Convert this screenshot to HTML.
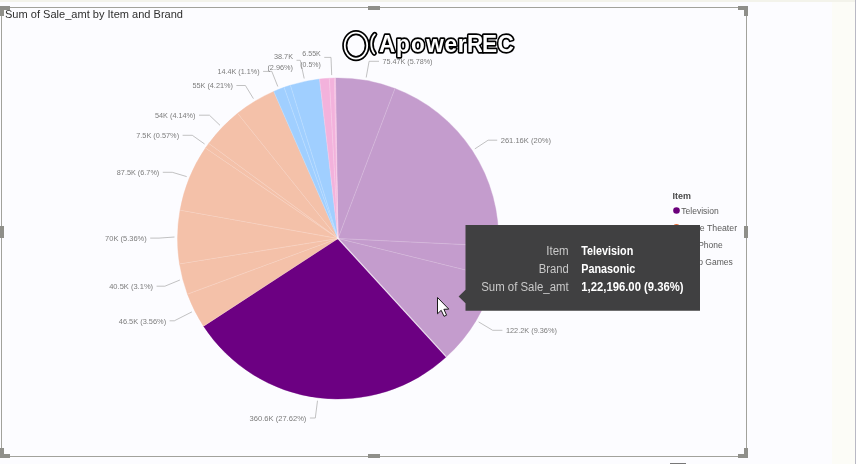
<!DOCTYPE html>
<html><head><meta charset="utf-8"><title>Sum of Sale_amt by Item and Brand</title>
<style>html,body{margin:0;padding:0;background:#FCFCFF;overflow:hidden}body{width:856px;height:464px}</style></head>
<body>
<svg width="856" height="464" viewBox="0 0 856 464" style="display:block;font-family:'Liberation Sans',sans-serif">
<rect width="856" height="464" fill="#FCFCFF"/>
<rect x="832" y="0" width="24" height="464" fill="#FCFCF7"/>
<rect x="0" y="0" width="856" height="2" fill="#F3F3EB"/>
<rect x="855" y="0" width="1" height="464" fill="#B9B9C4"/>
<rect x="670" y="463" width="16" height="1" fill="#777"/>
<rect x="1.5" y="7.5" width="745" height="449" fill="none" stroke="#A2A29C" stroke-width="1"/>
<rect x="0" y="6" width="10" height="4" fill="#8F8F8A"/>
<rect x="0" y="6" width="4" height="10" fill="#8F8F8A"/>
<rect x="738" y="6" width="10" height="4" fill="#8F8F8A"/>
<rect x="744" y="6" width="4" height="10" fill="#8F8F8A"/>
<rect x="0" y="454" width="10" height="4" fill="#8F8F8A"/>
<rect x="0" y="448" width="4" height="10" fill="#8F8F8A"/>
<rect x="738" y="454" width="10" height="4" fill="#8F8F8A"/>
<rect x="744" y="448" width="4" height="10" fill="#8F8F8A"/>
<rect x="368" y="6" width="12" height="4" fill="#8F8F8A"/>
<rect x="368" y="454" width="12" height="4" fill="#8F8F8A"/>
<rect x="0" y="226" width="4" height="12" fill="#8F8F8A"/>
<rect x="744" y="226" width="4" height="12" fill="#8F8F8A"/>
<text x="5" y="17.8" font-size="11" fill="#2F2F2F" textLength="178" lengthAdjust="spacingAndGlyphs">Sum of Sale_amt by Item and Brand</text>
<path d="M338.0,238.5 L335.48,78.02 A160.5,160.5 0 0 1 394.99,88.46 Z" fill="#C49CCD" stroke="#C49CCD" stroke-width="0.4"/>
<path d="M338.0,238.5 L394.99,88.46 A160.5,160.5 0 0 1 498.31,246.23 Z" fill="#C49CCD" stroke="#C49CCD" stroke-width="0.4"/>
<path d="M338.0,238.5 L498.31,246.23 A160.5,160.5 0 0 1 493.84,276.90 Z" fill="#C49CCD" stroke="#C49CCD" stroke-width="0.4"/>
<path d="M338.0,238.5 L493.84,276.90 A160.5,160.5 0 0 1 446.39,356.87 Z" fill="#C49CCD" stroke="#C49CCD" stroke-width="0.4"/>
<path d="M338.0,238.5 L446.39,356.87 A160.5,160.5 0 0 1 203.55,326.15 Z" fill="#6C0082" stroke="#6C0082" stroke-width="0.4"/>
<path d="M338.0,238.5 L203.55,326.15 A160.5,160.5 0 0 1 187.45,294.14 Z" fill="#F4C1A9" stroke="#F4C1A9" stroke-width="0.4"/>
<path d="M338.0,238.5 L187.45,294.14 A160.5,160.5 0 0 1 179.53,263.95 Z" fill="#F4C1A9" stroke="#F4C1A9" stroke-width="0.4"/>
<path d="M338.0,238.5 L179.53,263.95 A160.5,160.5 0 0 1 180.02,210.16 Z" fill="#F4C1A9" stroke="#F4C1A9" stroke-width="0.4"/>
<path d="M338.0,238.5 L180.02,210.16 A160.5,160.5 0 0 1 205.39,148.08 Z" fill="#F4C1A9" stroke="#F4C1A9" stroke-width="0.4"/>
<path d="M338.0,238.5 L205.39,148.08 A160.5,160.5 0 0 1 208.72,143.39 Z" fill="#F4C1A9" stroke="#F4C1A9" stroke-width="0.4"/>
<path d="M338.0,238.5 L208.72,143.39 A160.5,160.5 0 0 1 237.53,113.34 Z" fill="#F4C1A9" stroke="#F4C1A9" stroke-width="0.4"/>
<path d="M338.0,238.5 L237.53,113.34 A160.5,160.5 0 0 1 273.74,91.42 Z" fill="#F4C1A9" stroke="#F4C1A9" stroke-width="0.4"/>
<path d="M338.0,238.5 L273.74,91.42 A160.5,160.5 0 0 1 284.06,87.34 Z" fill="#A0CFFF" stroke="#A0CFFF" stroke-width="0.4"/>
<path d="M338.0,238.5 L284.06,87.34 A160.5,160.5 0 0 1 290.38,85.23 Z" fill="#A0CFFF" stroke="#A0CFFF" stroke-width="0.4"/>
<path d="M338.0,238.5 L290.38,85.23 A160.5,160.5 0 0 1 319.55,79.06 Z" fill="#A0CFFF" stroke="#A0CFFF" stroke-width="0.4"/>
<path d="M338.0,238.5 L319.55,79.06 A160.5,160.5 0 0 1 329.32,78.23 Z" fill="#F3B2DC" stroke="#F3B2DC" stroke-width="0.4"/>
<path d="M338.0,238.5 L329.32,78.23 A160.5,160.5 0 0 1 334.37,78.04 Z" fill="#F3B2DC" stroke="#F3B2DC" stroke-width="0.4"/>
<path d="M338.0,238.5 L334.37,78.04 A160.5,160.5 0 0 1 335.48,78.02 Z" fill="#F3B2DC" stroke="#F3B2DC" stroke-width="0.4"/>
<line x1="338.0" y1="238.5" x2="335.48" y2="78.02" stroke="#fff" stroke-opacity="0.28" stroke-width="0.7"/>
<line x1="338.0" y1="238.5" x2="394.99" y2="88.46" stroke="#fff" stroke-opacity="0.28" stroke-width="0.7"/>
<line x1="338.0" y1="238.5" x2="498.31" y2="246.23" stroke="#fff" stroke-opacity="0.28" stroke-width="0.7"/>
<line x1="338.0" y1="238.5" x2="493.84" y2="276.90" stroke="#fff" stroke-opacity="0.28" stroke-width="0.7"/>
<line x1="338.0" y1="238.5" x2="446.39" y2="356.87" stroke="#fff" stroke-opacity="0.28" stroke-width="0.7"/>
<line x1="338.0" y1="238.5" x2="203.55" y2="326.15" stroke="#fff" stroke-opacity="0.28" stroke-width="0.7"/>
<line x1="338.0" y1="238.5" x2="187.45" y2="294.14" stroke="#fff" stroke-opacity="0.28" stroke-width="0.7"/>
<line x1="338.0" y1="238.5" x2="179.53" y2="263.95" stroke="#fff" stroke-opacity="0.28" stroke-width="0.7"/>
<line x1="338.0" y1="238.5" x2="180.02" y2="210.16" stroke="#fff" stroke-opacity="0.28" stroke-width="0.7"/>
<line x1="338.0" y1="238.5" x2="205.39" y2="148.08" stroke="#fff" stroke-opacity="0.28" stroke-width="0.7"/>
<line x1="338.0" y1="238.5" x2="208.72" y2="143.39" stroke="#fff" stroke-opacity="0.28" stroke-width="0.7"/>
<line x1="338.0" y1="238.5" x2="237.53" y2="113.34" stroke="#fff" stroke-opacity="0.28" stroke-width="0.7"/>
<line x1="338.0" y1="238.5" x2="273.74" y2="91.42" stroke="#fff" stroke-opacity="0.28" stroke-width="0.7"/>
<line x1="338.0" y1="238.5" x2="284.06" y2="87.34" stroke="#fff" stroke-opacity="0.28" stroke-width="0.7"/>
<line x1="338.0" y1="238.5" x2="290.38" y2="85.23" stroke="#fff" stroke-opacity="0.28" stroke-width="0.7"/>
<line x1="338.0" y1="238.5" x2="319.55" y2="79.06" stroke="#fff" stroke-opacity="0.28" stroke-width="0.7"/>
<line x1="338.0" y1="238.5" x2="329.32" y2="78.23" stroke="#fff" stroke-opacity="0.28" stroke-width="0.7"/>
<line x1="338.0" y1="238.5" x2="334.37" y2="78.04" stroke="#fff" stroke-opacity="0.28" stroke-width="0.7"/>
<line x1="338.0" y1="238.5" x2="446.39" y2="356.87" stroke="#fff" stroke-opacity="0.8" stroke-width="1.2"/>
<polyline points="366.2,77.5 369.1,61.3 379.0,61.3" fill="none" stroke="#ADADAD" stroke-width="0.75"/>
<text x="382.5" y="64.0" font-size="7.8" fill="#7C7C7C" textLength="50" lengthAdjust="spacingAndGlyphs">75.47K (5.78%)</text>
<polyline points="474.8,148.9 488.1,140.2 497.2,140.2" fill="none" stroke="#ADADAD" stroke-width="0.75"/>
<text x="500.7" y="142.9" font-size="7.8" fill="#7C7C7C" textLength="50.4" lengthAdjust="spacingAndGlyphs">261.16K (20%)</text>
<polyline points="478.6,321.9 492.7,330.3 502.4,330.3" fill="none" stroke="#ADADAD" stroke-width="0.75"/>
<text x="505.9" y="333.0" font-size="7.8" fill="#7C7C7C" textLength="51" lengthAdjust="spacingAndGlyphs">122.2K (9.36%)</text>
<polyline points="317.5,400.7 315.3,418.0 309.9,418.0" fill="none" stroke="#ADADAD" stroke-width="0.75"/>
<text x="249.6" y="420.7" font-size="7.8" fill="#7C7C7C" textLength="56.8" lengthAdjust="spacingAndGlyphs">360.6K (27.62%)</text>
<polyline points="191.9,311.9 174.3,320.8 169.6,320.8" fill="none" stroke="#ADADAD" stroke-width="0.75"/>
<text x="118.8" y="323.5" font-size="7.8" fill="#7C7C7C" textLength="47.3" lengthAdjust="spacingAndGlyphs">46.5K (3.56%)</text>
<polyline points="179.9,280.0 164.9,286.2 156.6,286.2" fill="none" stroke="#ADADAD" stroke-width="0.75"/>
<text x="109.2" y="288.9" font-size="7.8" fill="#7C7C7C" textLength="43.9" lengthAdjust="spacingAndGlyphs">40.5K (3.1%)</text>
<polyline points="174.5,237.0 159.0,238.1 150.2,238.1" fill="none" stroke="#ADADAD" stroke-width="0.75"/>
<text x="105.1" y="240.8" font-size="7.8" fill="#7C7C7C" textLength="41.6" lengthAdjust="spacingAndGlyphs">70K (5.36%)</text>
<polyline points="186.7,176.6 172.3,172.3 162.8,172.3" fill="none" stroke="#ADADAD" stroke-width="0.75"/>
<text x="116.8" y="175.0" font-size="7.8" fill="#7C7C7C" textLength="42.5" lengthAdjust="spacingAndGlyphs">87.5K (6.7%)</text>
<polyline points="204.6,144.0 192.3,135.3 182.6,135.3" fill="none" stroke="#ADADAD" stroke-width="0.75"/>
<text x="136.2" y="138.0" font-size="7.8" fill="#7C7C7C" textLength="42.9" lengthAdjust="spacingAndGlyphs">7.5K (0.57%)</text>
<polyline points="220.0,125.3 209.4,115.2 199.0,115.2" fill="none" stroke="#ADADAD" stroke-width="0.75"/>
<text x="155.0" y="117.9" font-size="7.8" fill="#7C7C7C" textLength="40.5" lengthAdjust="spacingAndGlyphs">54K (4.14%)</text>
<polyline points="253.4,98.6 245.4,85.5 236.4,85.5" fill="none" stroke="#ADADAD" stroke-width="0.75"/>
<text x="192.4" y="88.2" font-size="7.8" fill="#7C7C7C" textLength="40.5" lengthAdjust="spacingAndGlyphs">55K (4.21%)</text>
<polyline points="277.8,86.5 271.8,71.4 263.1,71.4" fill="none" stroke="#ADADAD" stroke-width="0.75"/>
<text x="217.5" y="74.1" font-size="7.8" fill="#7C7C7C" textLength="42.1" lengthAdjust="spacingAndGlyphs">14.4K (1.1%)</text>
<polyline points="304.2,78.5 300.3,60.3 296.5,60.3" fill="none" stroke="#ADADAD" stroke-width="0.75"/>
<text x="274.0" y="58.9" font-size="7.8" fill="#7C7C7C" textLength="19" lengthAdjust="spacingAndGlyphs">38.7K</text>
<text x="267.4" y="69.7" font-size="7.8" fill="#7C7C7C" textLength="25.6" lengthAdjust="spacingAndGlyphs">(2.96%)</text>
<polyline points="331.7,75.1 331.0,57.4 324.3,57.4" fill="none" stroke="#ADADAD" stroke-width="0.75"/>
<text x="302.3" y="55.6" font-size="7.8" fill="#7C7C7C" textLength="18.5" lengthAdjust="spacingAndGlyphs">6.55K</text>
<text x="300.3" y="67.1" font-size="7.8" fill="#7C7C7C" textLength="20.5" lengthAdjust="spacingAndGlyphs">(0.5%)</text>
<text x="672.6" y="199" font-size="9" font-weight="bold" fill="#4A4A4A" textLength="18.4" lengthAdjust="spacingAndGlyphs">Item</text>
<circle cx="676.5" cy="210.5" r="3.3" fill="#6B007B"/>
<text x="681.3" y="214.1" font-size="9" fill="#5A5A5A" textLength="37.4" lengthAdjust="spacingAndGlyphs">Television</text>
<circle cx="676.5" cy="227.3" r="3.3" fill="#E66C37"/>
<text x="681.3" y="230.9" font-size="9" fill="#5A5A5A" textLength="55.8" lengthAdjust="spacingAndGlyphs">Home Theater</text>
<circle cx="676.5" cy="244.4" r="3.3" fill="#118DFF"/>
<text x="681.3" y="248" font-size="9" fill="#5A5A5A" textLength="41.3" lengthAdjust="spacingAndGlyphs">Cell Phone</text>
<circle cx="676.5" cy="261.2" r="3.3" fill="#E044A7"/>
<text x="681.3" y="264.8" font-size="9" fill="#5A5A5A" textLength="51.6" lengthAdjust="spacingAndGlyphs">Video Games</text>
<path d="M465.5,225 H700 V310.8 H465.5 V303.2 L458.6,296.6 L465.5,289.8 Z" fill="#404041"/>
<text x="546.3" y="254.6" font-size="12" fill="#C9C9C9" textLength="22.4" lengthAdjust="spacingAndGlyphs">Item</text>
<text x="581.3" y="254.6" font-size="12" font-weight="bold" fill="#FFFFFF" textLength="52" lengthAdjust="spacingAndGlyphs">Television</text>
<text x="538.7" y="272.8" font-size="12" fill="#C9C9C9" textLength="30" lengthAdjust="spacingAndGlyphs">Brand</text>
<text x="581.3" y="272.8" font-size="12" font-weight="bold" fill="#FFFFFF" textLength="54" lengthAdjust="spacingAndGlyphs">Panasonic</text>
<text x="481.2" y="291" font-size="12" fill="#C9C9C9" textLength="87.5" lengthAdjust="spacingAndGlyphs">Sum of Sale_amt</text>
<text x="581.3" y="291" font-size="12" font-weight="bold" fill="#FFFFFF" textLength="102.3" lengthAdjust="spacingAndGlyphs">1,22,196.00 (9.36%)</text>
<path d="M437.5,297.5 V313.8 L441.2,310.3 L444,316.3 L446.6,315.2 L443.9,309.3 L448.8,309.1 Z" fill="#fff" stroke="#1a1a1a" stroke-width="1" stroke-linejoin="round"/>
<g fill="none" stroke-linecap="round">
<ellipse cx="356.0" cy="45.6" rx="11.2" ry="13.0" stroke="#000" stroke-width="5.2"/>
<path d="M374.8,34.4 C370.4,39 370.0,48 374.2,53.2" stroke="#000" stroke-width="5.2"/>
<ellipse cx="356.0" cy="45.6" rx="11.2" ry="13.0" stroke="#fff" stroke-width="1.8"/>
<path d="M374.8,34.4 C370.4,39 370.0,48 374.2,53.2" stroke="#fff" stroke-width="1.8"/>
</g>
<text transform="scale(0.94,1)" x="403.09 421.38 437.31 453.45 472.86 486.86 496.74 512.88 529.21" y="51.6" font-size="24" font-weight="bold" fill="#fff" stroke="#000" stroke-width="3.4" stroke-linejoin="round" paint-order="stroke">ApowerREC</text>
</svg>
</body></html>
